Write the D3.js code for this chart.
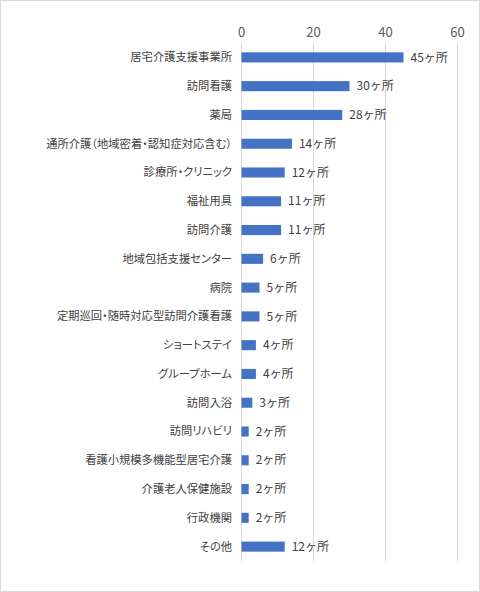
<!DOCTYPE html>
<html>
<head>
<meta charset="utf-8">
<script src="https://cdn.jsdelivr.net/npm/d3@7"></script>
<style>
  body { margin: 0; background: #fff; }
  svg { display: block; font-family: "Noto Sans CJK JP", "Noto Sans", sans-serif; }
  .cat { font-feature-settings: "palt"; }
</style>
</head>
<body>
<svg id="chart"></svg>
<script>
var width = 480;
var height = 592;

// data
var categories = ["居宅介護支援事業所", "訪問看護", "薬局", "通所介護（地域密着・認知症対応含む）",
  "診療所・クリニック", "福祉用具", "訪問介護", "地域包括支援センター", "病院",
  "定期巡回・随時対応型訪問介護看護", "ショートステイ", "グループホーム", "訪問入浴",
  "訪問リハビリ", "看護小規模多機能型居宅介護", "介護老人保健施設", "行政機関", "その他"];
var counts = [45, 30, 28, 14, 12, 11, 11, 6, 5, 5, 4, 4, 3, 2, 2, 2, 2, 12];
var ticks = [0, 20, 40, 60];

var svg = d3.select("#chart").attr("width", width).attr("height", height);

svg.append("rect")
  .attr("x", 0.5).attr("y", 0.5)
  .attr("width", width - 1).attr("height", height - 1)
  .attr("fill", "#fff").attr("stroke", "#d9d9d9");

var x = d3.scaleLinear().domain([0, 60]).range([241.5, 457.5]);
var y = d3.scaleBand().domain(categories).range([43, 561]).paddingInner(0.65).paddingOuter(0.325);

// gridlines
svg.append("g")
  .selectAll("line")
  .data(ticks)
  .join("line")
    .attr("x1", d => x(d)).attr("x2", d => x(d))
    .attr("y1", 43).attr("y2", 561)
    .attr("stroke", "#d9d9d9").attr("stroke-width", 1);

// top axis labels
svg.append("g")
  .selectAll("text")
  .data(ticks)
  .join("text")
    .attr("x", d => x(d)).attr("y", 37)
    .attr("text-anchor", "middle")
    .attr("font-size", 13)
    .attr("fill", "#595959")
    .text(d => d);

// category labels
svg.append("g")
  .selectAll("text")
  .data(categories)
  .join("text")
    .attr("class", "cat")
    .attr("x", 232)
    .attr("y", d => y(d) + y.bandwidth() / 2)
    .attr("dy", "0.35em")
    .attr("text-anchor", "end")
    .attr("font-size", 11.3)
    .attr("fill", "#404040")
    .text(d => d);

// bars
svg.append("g")
  .selectAll("rect")
  .data(counts)
  .join("rect")
    .attr("x", x(0))
    .attr("y", (d, i) => y(categories[i]))
    .attr("width", d => x(d) - x(0))
    .attr("height", y.bandwidth())
    .attr("fill", "#4472C4");

// value labels
svg.append("g")
  .selectAll("text")
  .data(counts)
  .join("text")
    .attr("x", d => x(d) + 7)
    .attr("y", (d, i) => y(categories[i]) + y.bandwidth() / 2)
    .attr("dy", "0.35em")
    .attr("font-size", 12)
    .attr("fill", "#404040")
    .text(d => d + "ヶ所");
</script>
</body>
</html>
